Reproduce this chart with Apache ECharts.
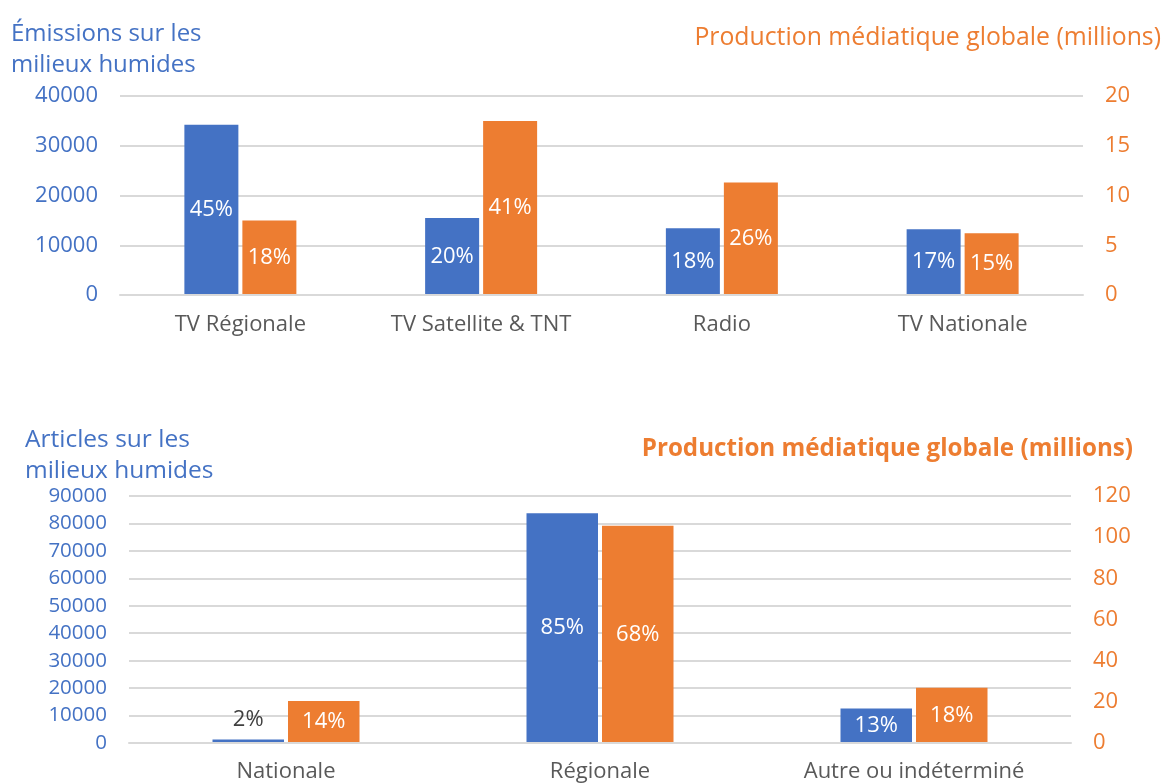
<!DOCTYPE html>
<html>
<head>
<meta charset="utf-8">
<script src="https://cdn.jsdelivr.net/npm/echarts@6/dist/echarts.min.js"></script>
<style>
html,body{margin:0;padding:0;background:#fff;}
#c{width:1171px;height:783px;}
</style>
</head>
<body>
<div id="c"></div>
<script>
// ---- Data ----
var topCategories = ['TV Régionale', 'TV Satellite & TNT', 'Radio', 'TV Nationale'];
var topEmissions = [34200, 15500, 13400, 13200];
var topEmissionsPct = ['45%', '20%', '18%', '17%'];
var topProduction = [7.5, 17.5, 11.3, 6.2];
var topProductionPct = ['18%', '41%', '26%', '15%'];
var topLeftTicks = [0, 40000, 10000];
var topRightTicks = [0, 20, 5];

var botCategories = ['Nationale', 'Régionale', 'Autre ou indéterminé'];
var botArticles = [1300, 83700, 12600];
var botArticlesPct = ['2%', '85%', '13%'];
var botProduction = [20.4, 105.5, 26.9];
var botProductionPct = ['14%', '68%', '18%'];
var botLeftTicks = [0, 90000, 10000];
var botRightTicks = [0, 120, 20];

var BLUE = '#4472c4', ORANGE = '#ed7d31', GRID = '#d9d9d9', CAT = '#595959';
var FONT = '"Open Sans", "Noto Sans", sans-serif';

function valAxis(gridIndex, ticks, color, showSplit, pos, fs) {
  return {
    type: 'value', gridIndex: gridIndex, position: pos,
    min: ticks[0], max: ticks[1], interval: ticks[2],
    axisLine: {show: false}, axisTick: {show: false},
    axisLabel: {color: color, fontSize: fs, fontFamily: FONT, margin: 22,
      formatter: function (v) { return String(v); }},
    splitLine: {show: showSplit, lineStyle: {color: GRID, width: 2}}
  };
}
function catAxis(gridIndex, cats, margin) {
  return {
    type: 'category', gridIndex: gridIndex, data: cats, z: 5,
    axisLine: {lineStyle: {color: GRID, width: 2}},
    axisTick: {show: false},
    axisLabel: {color: CAT, fontSize: 22, fontFamily: FONT, margin: margin}
  };
}
function barSeries(x, y, vals, pcts, color, width, gap, smallTop) {
  return {
    type: 'bar', xAxisIndex: x, yAxisIndex: y, barWidth: width, barGap: gap,
    itemStyle: {color: color},
    data: vals.map(function (v, i) {
      var d = {value: v};
      if (smallTop && smallTop.indexOf(i) >= 0) {
        d.label = {position: 'top', color: '#404040', distance: 9};
      }
      return d;
    }),
    label: {
      show: true, position: 'inside', color: '#fff', fontSize: 22, fontFamily: FONT,
      formatter: function (p) { return pcts[p.dataIndex]; }
    }
  };
}

var chart = echarts.init(document.getElementById('c'));
chart.setOption({
  animation: false,
  backgroundColor: '#fff',
  title: [
    {text: 'Émissions sur les\nmilieux humides', left: 6, top: 14,
     textStyle: {color: BLUE, fontSize: 24, fontWeight: 'normal', fontFamily: FONT, lineHeight: 31}},
    {text: 'Production médiatique globale (millions)', right: 5, top: 20,
     textStyle: {color: ORANGE, fontSize: 24.8, fontWeight: 'normal', fontFamily: FONT}},
    {text: 'Articles sur les\nmilieux humides', left: 20, top: 420,
     textStyle: {color: BLUE, fontSize: 24.5, fontWeight: 'normal', fontFamily: FONT, lineHeight: 31}},
    {text: 'Production médiatique globale (millions)', right: 33, top: 432,
     textStyle: {color: ORANGE, fontSize: 24.2, fontWeight: 'bold', fontFamily: FONT}}
  ],
  grid: [
    {left: 120, right: 88, top: 96, height: 199, containLabel: false},
    {left: 129, right: 100, top: 496, height: 247.5, containLabel: false}
  ],
  xAxis: [catAxis(0, topCategories, 19), catAxis(1, botCategories, 18)],
  yAxis: [
    valAxis(0, topLeftTicks, BLUE, true, 'left', 22),
    valAxis(0, topRightTicks, ORANGE, false, 'right', 22),
    valAxis(1, botLeftTicks, BLUE, true, 'left', 20.5),
    valAxis(1, botRightTicks, ORANGE, false, 'right', 22)
  ],
  series: [
    barSeries(0, 0, topEmissions, topEmissionsPct, BLUE, 54, '7.4%'),
    barSeries(0, 1, topProduction, topProductionPct, ORANGE, 54, '7.4%'),
    barSeries(1, 2, botArticles, botArticlesPct, BLUE, 71.5, '5.6%', [0]),
    barSeries(1, 3, botProduction, botProductionPct, ORANGE, 71.5, '5.6%')
  ]
});
</script>
</body>
</html>
